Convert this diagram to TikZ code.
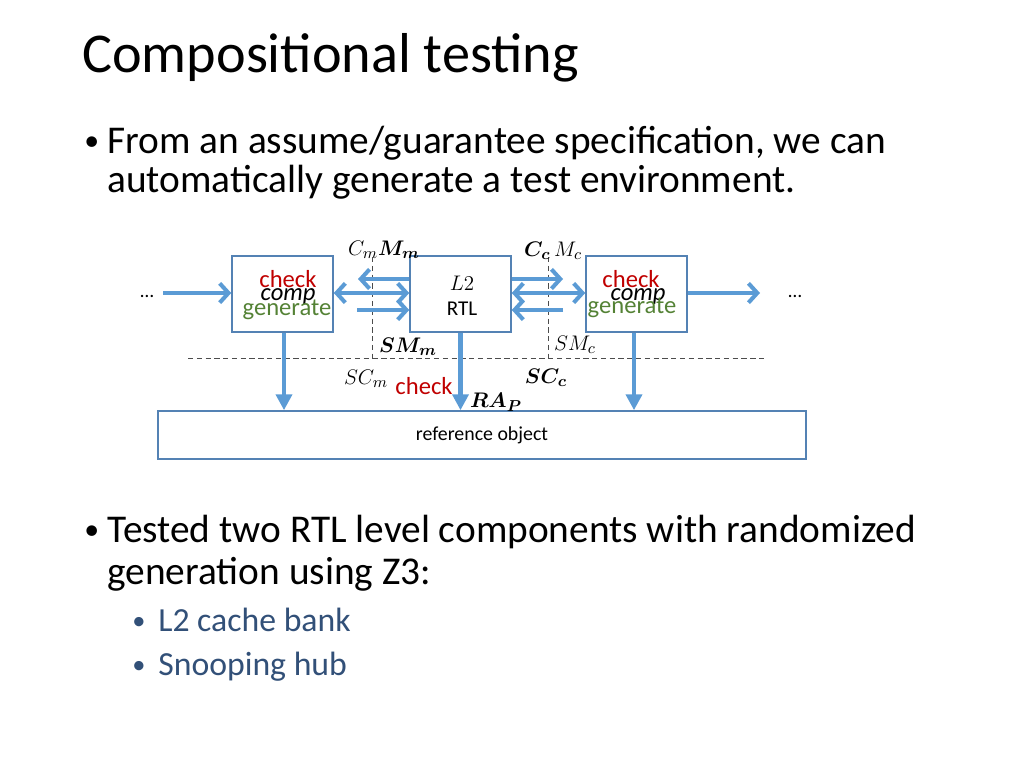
\documentclass[tikz,border=0pt]{standalone}
\usepackage{amsmath}
\usepackage{bm}
\usepackage{fontspec}
\setmainfont{Carlito}
\usetikzlibrary{arrows.meta}
\definecolor{arrowblue}{RGB}{91,155,213}
\definecolor{boxblue}{RGB}{84,130,180}
\definecolor{checkred}{RGB}{192,0,0}
\definecolor{gengreen}{RGB}{84,130,53}
\definecolor{subblue}{RGB}{50,80,120}
\tikzset{
  blk/.style={draw=boxblue, line width=0.9pt, minimum width=2.02cm, minimum height=1.52cm, inner sep=0pt},
  flow/.style={draw=arrowblue, line width=2.3pt, -{Straight Barb[length=5pt,width=11pt,line width=2.3pt]}},
  flowboth/.style={draw=arrowblue, line width=2.3pt, {Straight Barb[length=5pt,width=11pt,line width=2.3pt]}-{Straight Barb[length=5pt,width=11pt,line width=2.3pt]}},
  down/.style={draw=arrowblue, line width=2.3pt, -{Triangle[length=9pt,width=9pt]}},
  sep/.style={draw=black!70, line width=0.5pt, dash pattern=on 3pt off 2pt},
  bodytxt/.style={anchor=base west, inner sep=0pt, font=\fontsize{22.4}{27}\selectfont},
  subtxt/.style={anchor=base west, inner sep=0pt, text=subblue, font=\fontsize{19.2}{23}\selectfont},
  lbl/.style={font=\fontsize{12.5}{14}\selectfont},
}
\begin{document}
\begin{tikzpicture}[x=0.02cm, y=-0.02cm]
		%%%%% START %%%%%
		\useasboundingbox (0,0) rectangle (1024,768);
		
		\node[anchor=base west, inner sep=0pt, font=\fontsize{32}{38}\selectfont] (title) at (82,72) {Compositional testing};
		
		\node[bodytxt, font=\fontsize{17}{20}\selectfont] (b1dot) at (84,150) {\textbullet};
		\node[bodytxt] (b1a) at (107,153) {From an assume/guarantee specification, we can};
		\node[bodytxt] (b1b) at (107,192) {automatically generate a test environment.};
		
		% boxes
		\node[blk] (lft) at (282.5,294) {};
		\node[blk] (mid) at (460.5,294) {};
		\node[blk] (rgt) at (636.5,294) {};
		\node[draw=boxblue, line width=0.9pt, minimum width=12.96cm, minimum height=0.96cm, inner sep=0pt, font=\fontsize{11.3}{13}\selectfont] (ref) at (482,435) {reference object};
		
		\node[font=\fontsize{14}{16}\selectfont, text=checkred] (lchk) at (288,279) {check};
		\node[font=\fontsize{14}{16}\selectfont] (lcmp) at (288,297) {$\mathit{comp}$};
		\node[font=\fontsize{14}{16}\selectfont, text=gengreen] (lgen) at (287,310) {generate};
		
		\node[lbl] (l2) at (462,283) {$L2$};
		\node[font=\fontsize{12}{14}\selectfont] (rtl) at (462,309) {RTL};
		
		\node[font=\fontsize{14}{16}\selectfont, text=checkred] (rchk) at (631,279) {check};
		\node[font=\fontsize{14}{16}\selectfont] (rcmp) at (638,297) {$\mathit{comp}$};
		\node[font=\fontsize{14}{16}\selectfont, text=gengreen] (rgen) at (632,308) {generate};
		
		% dashed borders
		\coordinate (hl) at (188,358);
		\coordinate (hr) at (766,358);
		\draw[sep] (hl) -- (hr);
		\coordinate (vlt) at (372,257);
		\coordinate (vrt) at (548,257);
		\draw[sep] (vlt) -- (vlt |- hl);
		\draw[sep] (vrt) -- (vrt |- hl);
		
		% labels
		\node[lbl] (cm) at (384,250) {$C_m\bm{M_m}$};
		\node[lbl] (cc) at (553,251) {$\bm{C_c}\,M_c$};
		\node[lbl] (smm) at (408,347) {$\bm{SM_m}$};
		\node[lbl] (smc) at (575,345) {$SM_c$};
		\node[lbl] (scm) at (366,379) {$SC_m$};
		\node[font=\fontsize{14}{16}\selectfont, text=checkred] (mchk) at (424,386) {check};
		\node[lbl] (scc) at (546,378) {$\bm{SC_c}$};
		\node[lbl] (rap) at (496,402) {$\bm{RA_P}$};
		
		% outer flows
		\node[font=\fontsize{11}{13}\selectfont] (ldots) at (147,296) {\dots};
		\node[font=\fontsize{11}{13}\selectfont] (rdots) at (795,296) {\dots};
		\coordinate (lin) at (163,293);
		\draw[flow] (lin) -- (lft.west |- lin);
		\coordinate (rout) at (760,293);
		\draw[flow] (rgt.east |- rout) -- (rout);
		
		% left interface
		\coordinate (a1) at (358,279);
		\coordinate (a3) at (357,310);
		\draw[flow] (mid.west |- a1) -- (a1);
		\draw[flowboth] (lft.east |- lin) -- (mid.west |- lin);
		\draw[flow] (a3) -- (mid.west |- a3);
		
		% right interface
		\coordinate (b1e) at (563,279);
		\coordinate (b3) at (563,310);
		\draw[flow] (mid.east |- b1e) -- (b1e);
		\draw[flowboth] (mid.east |- lin) -- (rgt.west |- lin);
		\draw[flow] (b3) -- (mid.east |- b3);
		
		% down to reference object
		\coordinate (ld) at (284,0);
		\coordinate (rd) at (634,0);
		\draw[down] (lft.south -| ld) -- (ref.north -| ld);
		\draw[down] (mid.south) -- (ref.north -| mid.south);
		\draw[down] (rgt.south -| rd) -- (ref.north -| rd);
		
		\node[bodytxt, font=\fontsize{17}{20}\selectfont] (b2dot) at (84,539) {\textbullet};
		\node[bodytxt] (b2a) at (107,542) {Tested two RTL level components with randomized};
		\node[bodytxt] (b2b) at (107,584) {generation using Z3:};
		
		\node[subtxt, font=\fontsize{15}{18}\selectfont] (s1dot) at (132,629) {\textbullet};
		\node[subtxt] (s1) at (158,631) {L2 cache bank};
		\node[subtxt, font=\fontsize{15}{18}\selectfont] (s2dot) at (132,673) {\textbullet};
		\node[subtxt] (s2) at (158,675) {Snooping hub};
		%%%%% END %%%%%
\end{tikzpicture}
\end{document}
